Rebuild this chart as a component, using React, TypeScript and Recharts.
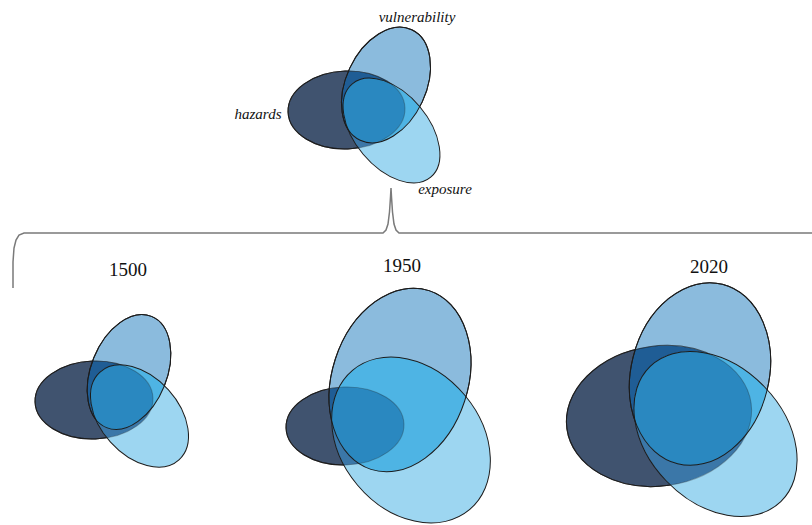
import { Scatter, ScatterChart, XAxis, YAxis } from "recharts"

const W = 812
const H = 525

// one diagram on top, then one per year
const groups = ["top", "1500", "1950", "2020"]

// ellipse centre (x, y), semi-axes (rx, ry) in chart units, rotation in degrees
const hazards = [
  { x: 346.5, y: 110, rx: 58.5, ry: 39, rot: -2 },
  { x: 94, y: 400, rx: 59, ry: 39, rot: -2 },
  { x: 345, y: 426, rx: 59, ry: 39, rot: -2 },
  { x: 659, y: 416, rx: 93, ry: 70, rot: -8 },
]

const vulnerability = [
  { x: 386, y: 85, rx: 40, ry: 61, rot: 25 },
  { x: 129, y: 372, rx: 38, ry: 60, rot: 22 },
  { x: 400, y: 380, rx: 68, ry: 94, rot: 18 },
  { x: 700, y: 374, rx: 69, ry: 92.5, rot: 14 },
]

const exposure = [
  { x: 391.5, y: 130.5, rx: 61, ry: 37, rot: 50 },
  { x: 139.5, y: 416, rx: 59, ry: 39, rot: 48 },
  { x: 411, y: 440, rx: 91, ry: 70, rot: 50 },
  { x: 715.5, y: 434, rx: 94, ry: 68, rot: 46 },
]

const labels = [
  { x: 417, y: 22, text: "vulnerability", kind: "term" },
  { x: 258, y: 119, text: "hazards", kind: "term" },
  { x: 445, y: 194, text: "exposure", kind: "term" },
  { x: 128, y: 276, text: "1500", kind: "year" },
  { x: 402, y: 272, text: "1950", kind: "year" },
  { x: 709, y: 273, text: "2020", kind: "year" },
]

// the brace joining the top diagram to the three years
const brace = [
  { x: 13, y: 288 }, { x: 13, y: 262 }, { x: 14, y: 248 }, { x: 16, y: 240 },
  { x: 19, y: 235 }, { x: 24, y: 233 }, { x: 383, y: 233 }, { x: 386, y: 230 },
  { x: 388, y: 224 }, { x: 389.5, y: 212 }, { x: 390.5, y: 197 }, { x: 391, y: 188 },
  { x: 391.5, y: 197 }, { x: 392.5, y: 212 }, { x: 394, y: 224 }, { x: 396, y: 230 },
  { x: 399, y: 233 }, { x: 812, y: 233 },
]

const COLORS = {
  h: "#40536f",
  v: "#8bbbdd",
  e: "#9dd6f1",
  hv: "#1f5d95",
  he: "#3b77a8",
  ve: "#4eb4e4",
  hve: "#2a88c0",
  line: "#1c1c1c",
}

const X_DOMAIN = [0, W]
const k = W / (X_DOMAIN[1] - X_DOMAIN[0])

const withGroup = (arr: any[]) => arr.map((d, i) => ({ ...d, g: groups[i] }))

function ellipse(props: any, extra: any) {
  const { cx, cy, payload } = props
  return (
    <ellipse
      cx={cx}
      cy={cy}
      rx={payload.rx * k}
      ry={payload.ry * k}
      transform={`rotate(${payload.rot} ${cx} ${cy})`}
      {...extra}
    />
  )
}

function HazardShape(props: any) {
  const g = props.payload.g
  return (
    <g>
      <defs>
        <clipPath id={`clip-h-${g}`}>{ellipse(props, {})}</clipPath>
      </defs>
      {ellipse(props, { fill: COLORS.h })}
      {ellipse(props, { id: `line-h-${g}`, fill: "none", stroke: COLORS.line, strokeWidth: 1 })}
    </g>
  )
}

function VulnShape(props: any) {
  const g = props.payload.g
  return (
    <g>
      <defs>
        <clipPath id={`clip-v-${g}`}>{ellipse(props, {})}</clipPath>
      </defs>
      {ellipse(props, { fill: COLORS.v })}
      <g clipPath={`url(#clip-h-${g})`}>{ellipse(props, { fill: COLORS.hv })}</g>
      <use href={`#line-h-${g}`} opacity={0.5} />
      {ellipse(props, { id: `line-v-${g}`, fill: "none", stroke: COLORS.line, strokeWidth: 1 })}
    </g>
  )
}

function ExposureShape(props: any) {
  const g = props.payload.g
  return (
    <g>
      {ellipse(props, { fill: COLORS.e })}
      <g clipPath={`url(#clip-h-${g})`}>{ellipse(props, { fill: COLORS.he })}</g>
      <g clipPath={`url(#clip-v-${g})`}>{ellipse(props, { fill: COLORS.ve })}</g>
      <g clipPath={`url(#clip-h-${g})`}>
        <g clipPath={`url(#clip-v-${g})`}>{ellipse(props, { fill: COLORS.hve })}</g>
      </g>
      <use href={`#line-h-${g}`} opacity={0.3} />
      <use href={`#line-v-${g}`} />
      {ellipse(props, { fill: "none", stroke: COLORS.line, strokeWidth: 1 })}
    </g>
  )
}

function LabelShape(props: any) {
  const { cx, cy, payload } = props
  const term = payload.kind === "term"
  return (
    <text
      x={cx}
      y={cy}
      textAnchor="middle"
      fontFamily="'Liberation Serif', 'DejaVu Serif', serif"
      fontSize={term ? 15 : 19}
      fontStyle={term ? "italic" : "normal"}
      fill="#111"
    >
      {payload.text}
    </text>
  )
}

export default function App() {
  return (
    <div style={{ position: "absolute", left: 0, top: 0, width: W, height: H, background: "#fff" }}>
      <ScatterChart width={W} height={H} margin={{ top: 0, right: 0, bottom: 0, left: 0 }}>
        <XAxis type="number" dataKey="x" domain={X_DOMAIN} hide allowDataOverflow />
        <YAxis type="number" dataKey="y" domain={[0, H]} reversed hide allowDataOverflow />
        <Scatter
          data={brace}
          line={{ stroke: "#7a7a7a", strokeWidth: 1.5 }}
          shape={() => <g />}
          isAnimationActive={false}
        />
        <Scatter data={withGroup(hazards)} shape={HazardShape} isAnimationActive={false} />
        <Scatter data={withGroup(vulnerability)} shape={VulnShape} isAnimationActive={false} />
        <Scatter data={withGroup(exposure)} shape={ExposureShape} isAnimationActive={false} />
        <Scatter data={labels} shape={LabelShape} isAnimationActive={false} />
      </ScatterChart>
    </div>
  )
}
